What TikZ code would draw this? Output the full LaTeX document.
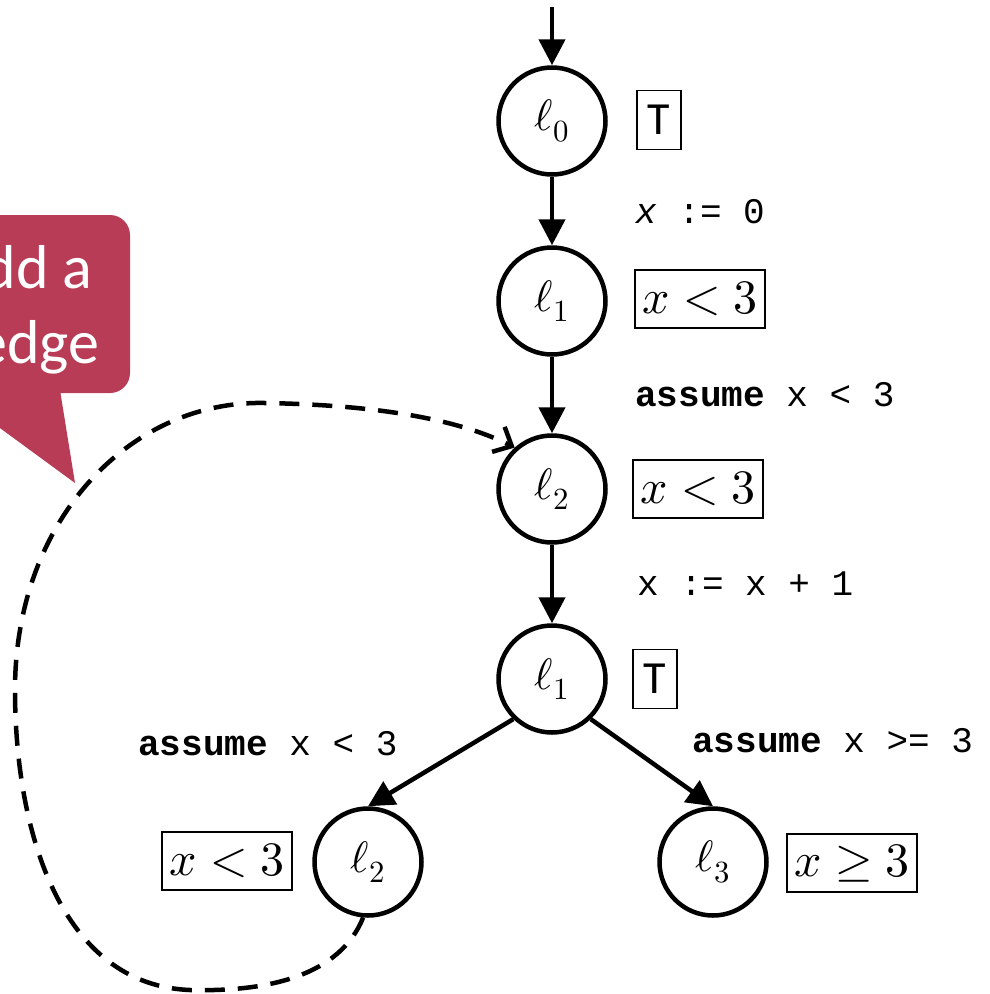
\documentclass[tikz,border=0pt]{standalone}
\usepackage{fontspec}
\usepackage{unicode-math}
\setmathfont{Latin Modern Math}
\setsansfont{Carlito}
\setmonofont{Liberation Mono}
\definecolor{CalloutRed}{RGB}{185,60,86}
\usetikzlibrary{
  positioning,
  arrows.meta,
  calc
}
\tikzset{
  % Program location
  loc/.style={
    circle,
    draw=black,
    line width=4.5pt,
    minimum size=107pt,
    inner sep=0pt,
    font=\fontsize{44}{50}\selectfont
  },
  % Invariant box
  inv/.style={
    draw=black,
    line width=1.8pt,
    minimum height=58pt,
    inner ysep=3pt,
    inner xsep=7pt,
    font=\fontsize{48}{56}\selectfont
  },
  % Box holding the top element
  topbox/.style={
    draw=black,
    line width=1.8pt,
    minimum width=44pt,
    minimum height=59pt,
    inner sep=0pt,
    font=\sffamily\fontsize{46}{50}\selectfont
  },
  % Statement on an edge
  stmt/.style={
    anchor=west,
    inner sep=0pt,
    font=\ttfamily\fontsize{36}{40}\selectfont
  },
  % CFG edge
  cfgedge/.style={
    draw=black,
    line width=4.5pt,
    -{Triangle[length=26pt,width=26pt]}
  },
  % New (back) edge
  backedge/.style={
    draw=black,
    line width=4.5pt,
    dash pattern=on 20pt off 13pt,
    -{Straight Barb[length=15pt,width=28pt]}
  },
  % Speech bubble text
  callout/.style={
    text=white,
    align=center,
    inner sep=0pt,
    font=\sffamily\fontsize{62}{75}\selectfont
  }
}

\begin{document}
\begin{tikzpicture}[x=1pt,y=-1pt]
  \useasboundingbox (0,0) rectangle (990,994);
  \clip (0,0) rectangle (990,994);
  % speech bubble
  \fill[CalloutRed, rounded corners=20pt] (-80,215) rectangle (130,393);
  \fill[CalloutRed] (60,390) -- (75,483) -- (-52,390) -- cycle;
  \node[callout] (note) at (38,310) {dd a\\edge};
  % locations
  \node[loc] (l0) at (552,121) {$\ell_0$};
  \node[loc] (l1) at (552,301) {$\ell_1$};
  \node[loc] (l2) at (552,489) {$\ell_2$};
  \node[loc] (l1b) at (552,679) {$\ell_1$};
  \node[loc] (l2b) at (368,862) {$\ell_2$};
  \node[loc] (l3) at (713,862) {$\ell_3$};
  % invariants
  \node[topbox] (t0) at (659,120) {T};
  \node[inv] (i1) at (700,299) {$x<3$};
  \node[inv] (i2) at (698,489) {$x<3$};
  \node[topbox] (t1b) at (655,679) {T};
  \node[inv] (i2b) at (227,861) {$x<3$};
  \node[inv] (i3) at (852,863) {$x\geq 3$};
  % statements
  \node[stmt] (s0) at (635,212) {\textit{x} := 0};
  \node[stmt] (s1) at (635,395) {\textbf{assume} x < 3};
  \node[stmt] (s2) at (637,584) {x := x + 1};
  \node[stmt] (s3) at (138,744) {\textbf{assume} x < 3};
  \node[stmt] (s4) at (692,741) {\textbf{assume} x >= 3};
  % edges
  \coordinate (entry) at (552,7);
  \draw[cfgedge] (entry) -- (l0);
  \draw[cfgedge] (l0) -- (l1);
  \draw[cfgedge] (l1) -- (l2);
  \draw[cfgedge] (l2) -- (l1b);
  \draw[cfgedge] (l1b.226) -- (l2b.north);
  \draw[cfgedge] (l1b.-46) -- (l3.north);
  \draw[backedge] (l2b.-95) .. controls (340,975) and (270,992) .. (190,990)
    .. controls (60,985) and (15,830) .. (15,690)
    .. controls (15,520) and (130,400) .. (265,403)
    .. controls (380,405) and (460,420) .. (l2.132);
\end{tikzpicture}
\end{document}
